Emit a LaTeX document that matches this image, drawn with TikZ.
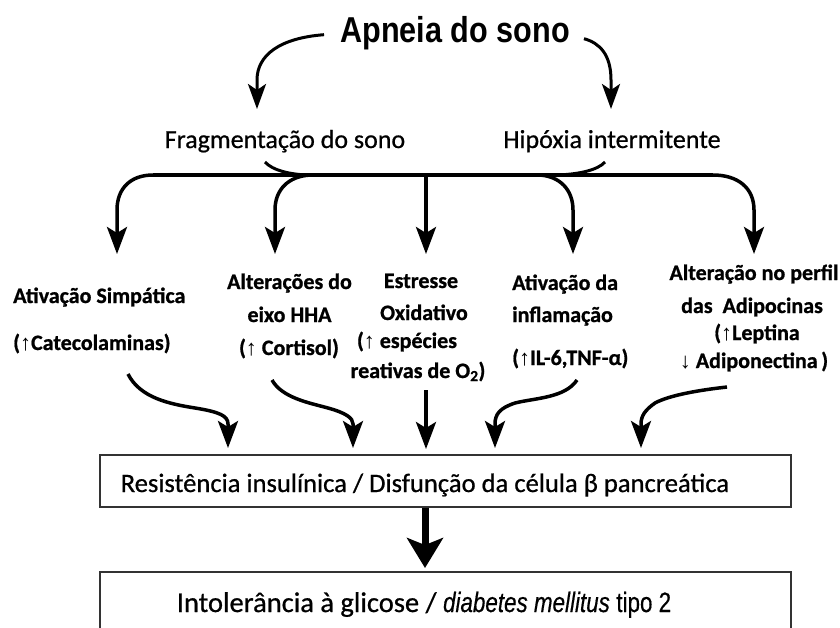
\documentclass[tikz,border=0pt]{standalone}
\usepackage{fontspec}
\setmainfont{Carlito}[BoldFeatures={FakeBold=0.9}]
\newfontfamily\medfont[FakeBold=0.7]{Carlito}
\newfontfamily\titlefont[FakeStretch=0.85]{Liberation Sans}
\newfontfamily\narrowfont[FakeStretch=0.8,FakeBold=0.4]{Liberation Sans}
\newfontfamily\arrfont{Liberation Sans}
\usetikzlibrary{arrows.meta}
\newcommand\myup{{\arrfont ↑}}
\newcommand\mydn{{\arrfont ↓}}
\tikzset{
  lab/.style={font=\bfseries\fontsize{22}{26}\selectfont, inner sep=0pt, anchor=base},
  labw/.style={lab, anchor=base west},
  maintxt/.style={font=\medfont\fontsize{26}{30}\selectfont, inner sep=0pt, anchor=base},
  ttl/.style={font=\titlefont\bfseries\fontsize{36}{40}\selectfont, inner sep=0pt, anchor=base},
  conn/.style={line width=3.5pt, -{Stealth[length=27pt,width=20pt,inset=6pt]}},
  thinconn/.style={line width=3pt, -{Stealth[length=25pt,width=18pt,inset=6pt]}},
  hubline/.style={line width=3.5pt},
  box/.style={draw=black!80, line width=1.6pt, minimum width=691pt, inner sep=0pt},
  bigconn/.style={line width=7pt, -{Stealth[length=30pt,width=36pt,inset=7pt]}}
}
\begin{document}
\begin{tikzpicture}[x=1pt,y=-1pt]
\useasboundingbox[fill=white] (0,0) rectangle (840,627);

% title and first level
\node[ttl] (apn) at (455,42) {Apneia do sono};
\node[maintxt] (frag) at (285,148) {Fragmentação do sono};
\node[maintxt] (hip) at (612,148) {Hipóxia intermitente};

\coordinate (fragtip) at (257,109);
\coordinate (hiptip) at (611,109);
\draw[thinconn] ([shift={(-16,2)}]apn.west) .. controls (280,38) and (257,55) .. (257,80) -- (fragtip);
\draw[thinconn] ([shift={(14,6)}]apn.east) .. controls (600,43) and (611,55) .. (611,80) -- (hiptip);

% hub
\coordinate (hubL) at (153,175);
\coordinate (hubR) at (713,175);
\coordinate (b2) at (311,175);
\coordinate (b3) at (426,175);
\coordinate (b4) at (539,175);
\draw[hubline] (hubL) -- (hubR);
\draw[line width=3pt] ([xshift=-20pt,yshift=-14pt]frag.base) .. controls (272,170) and (290,175) .. (b2);
\draw[line width=3pt] ([xshift=-7pt,yshift=-14pt]hip.base) .. controls (598,170) and (578,175) .. (552,175);

\coordinate (a1) at (117,254);
\coordinate (a2) at (275,254);
\coordinate (a3) at (426,254);
\coordinate (a4) at (573,254);
\coordinate (a5) at (754,254);
\draw[conn] (hubL) .. controls (131,175) and (117,188) .. (117,210) -- (a1);
\draw[conn] (b2) .. controls (288,176) and (275,190) .. (275,210) -- (a2);
\draw[conn] (b3) -- (a3);
\draw[conn] (b4) .. controls (560,176) and (573,190) .. (573,210) -- (a4);
\draw[conn] (hubR) .. controls (738,175) and (754,188) .. (754,210) -- (a5);

% middle row
\node[labw] (s1) at (13,303) {Ativação Simpática};
\node[labw] (s2) at (13,350) {(\myup Catecolaminas)};

\node[lab] (h1) at (289.5,289) {Alterações do};
\node[lab] (h2) at (289.5,322) {eixo HHA};
\node[lab] (h3) at (289,355) {(\myup\ Cortisol)};

\node[lab] (e1) at (421,288) {Estresse};
\node[lab] (e2) at (424,320) {Oxidativo};
\node[lab] (e3) at (407,348) {(\myup\ espécies};
\node[lab] (e4) at (418,378) {reativas de O\textsubscript{2})};

\node[labw] (i1) at (512,290) {Ativação da};
\node[labw] (i2) at (512,322) {inflamação};
\node[labw] (i3) at (512,365) {(\myup IL-6,TNF-α)};

\node[lab] (p1) at (754,280) {Alteração no perfil};
\node[lab] (p2) at (752,313) {das\ \ Adipocinas};
\node[lab] (p3) at (757,340) {(\myup Leptina};
\node[lab] (p4) at (754,368) {\mydn\ Adiponectina\,)};

% boxes
\node[box, minimum height=52pt] (box1) at (445.5,481) {};
\node[box, minimum height=78pt] (box2) at (445.5,611) {};
\node[maintxt, font=\medfont\fontsize{26.6}{30}\selectfont] (res) at (425,492) {Resistência insulínica / Disfunção da célula β pancreática};
\node[maintxt, font=\medfont\fontsize{28.5}{32}\selectfont] (dm) at (424,612) {Intolerância à glicose / {\narrowfont\fontsize{28}{32}\selectfont\itshape diabetes mellitus} {\narrowfont\fontsize{28}{32}\selectfont tipo 2}};

% arrows to box1
\coordinate (c1) at (228,448);
\coordinate (c2) at (353,448);
\coordinate (c3) at (426,449);
\coordinate (c4) at (495,448);
\coordinate (c5) at (641,448);
\draw[conn] ([shift={(115,24)}]s2.base west) .. controls (140,398) and (170,404) .. (195,408) .. controls (220,412) and (228,416) .. (228,424) -- (c1);
\draw[conn] ([shift={(-17,25)}]h3.base) .. controls (282,398) and (310,403) .. (328,408) .. controls (346,413) and (353,418) .. (353,424) -- (c2);
\draw[conn] ([shift={(8,12)}]e4.base) -- (c3);
\draw[conn] ([shift={(65,15)}]i3.base west) .. controls (565,398) and (535,398) .. (515,403) .. controls (500,408) and (495,414) .. (495,424) -- (c4);
\draw[conn] ([shift={(-27,19)}]p4.base) .. controls (700,390) and (670,395) .. (655,403) .. controls (645,410) and (641,416) .. (641,424) -- (c5);

% box1 to box2
\coordinate (boxtip) at (425,568);
\draw[bigconn] (box1.south -| res.base) -- (boxtip);
\end{tikzpicture}
\end{document}
